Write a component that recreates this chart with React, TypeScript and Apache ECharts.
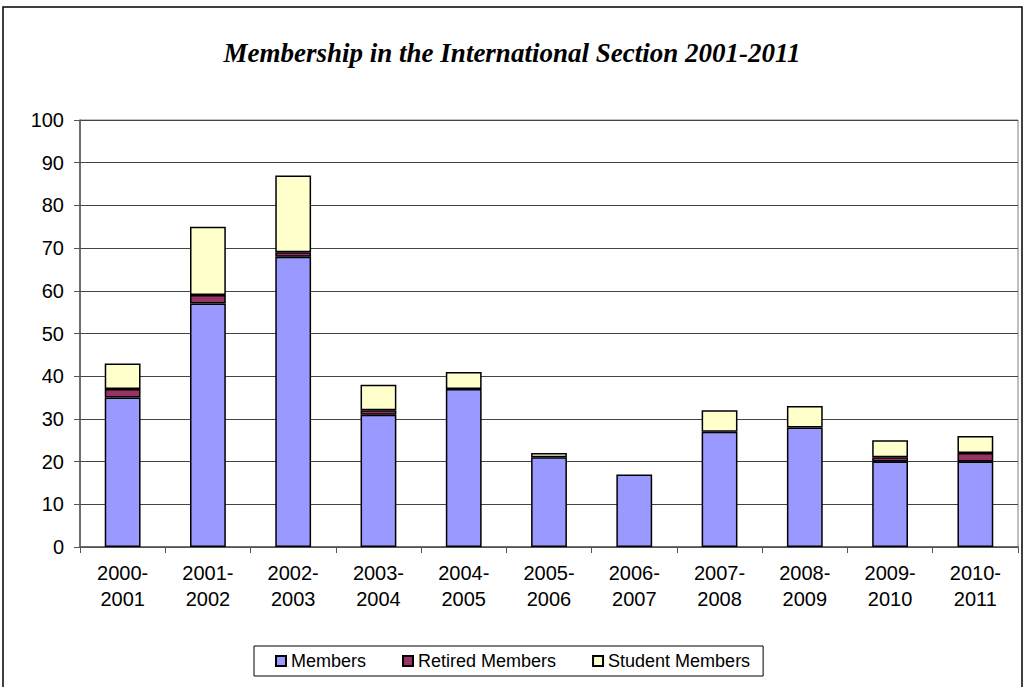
import React, { useEffect, useRef } from "react";
import * as echarts from "echarts";

const categories = ["2000-\n2001", "2001-\n2002", "2002-\n2003", "2003-\n2004", "2004-\n2005", "2005-\n2006", "2006-\n2007", "2007-\n2008", "2008-\n2009", "2009-\n2010", "2010-\n2011"];
const members = [35, 57, 68, 31, 37, 21, 17, 27, 28, 20, 20];
const retired = [2, 2, 1, 1, 0, 0, 0, 0, 0, 1, 2];
const students = [6, 16, 18, 6, 4, 1, 0, 5, 5, 4, 4];
const yTicks = [0, 10, 20, 30, 40, 50, 60, 70, 80, 90, 100];

const hideZero = (arr: number[]) => arr.map((v) => (v === 0 ? "-" : v));

export default function App() {
  const ref = useRef<HTMLDivElement>(null);
  useEffect(() => {
    const chart = echarts.init(ref.current!, null, { renderer: "svg" });
    const barStyle = (color: string) => ({ color, borderColor: "#000", borderWidth: 1.5 });
    chart.setOption({
      animation: false,
      backgroundColor: "#fff",
      title: {
        text: "Membership in the International Section 2001-2011",
        left: "center",
        top: 34,
        textStyle: { fontFamily: "Liberation Serif", fontStyle: "italic", fontWeight: "bold", fontSize: 27, color: "#000" },
      },
      graphic: [
        { type: "rect", shape: { x: 3, y: 7, width: 1019, height: 700 }, style: { fill: "none", stroke: "#000", lineWidth: 1.5 }, silent: true },
      ],
      legend: {
        left: 254,
        top: 646,
        orient: "horizontal",
        itemWidth: 10,
        itemHeight: 10,
        itemGap: 36,
        padding: [6, 13, 6, 21],
        borderColor: "#000",
        borderWidth: 1,
        icon: "rect",
        textStyle: { fontFamily: "Liberation Sans", fontSize: 18, color: "#000" },
        data: ["Members", "Retired Members", "Student Members"],
      },
      grid: { left: 80, right: 6, top: 120, bottom: 140, show: true, borderColor: "#808080", borderWidth: 1 },
      xAxis: {
        type: "category",
        data: categories,
        boundaryGap: true,
        axisLine: { lineStyle: { color: "#555", width: 1.5 } },
        axisTick: { show: true, length: 6, alignWithLabel: false, lineStyle: { color: "#555" } },
        axisLabel: { fontFamily: "Liberation Sans", fontSize: 20, color: "#000", lineHeight: 26, margin: 13, interval: 0 },
      },
      yAxis: {
        type: "value",
        min: yTicks[0],
        max: yTicks[yTicks.length - 1],
        interval: 10,
        axisLine: { show: true, lineStyle: { color: "#555", width: 1.5 } },
        axisTick: { show: true, length: 6, lineStyle: { color: "#555" } },
        axisLabel: { fontFamily: "Liberation Sans", fontSize: 20, color: "#000", margin: 16 },
        splitLine: { lineStyle: { color: "#444", width: 1 } },
      },
      series: [
        { name: "Members", type: "bar", stack: "a", barWidth: "42%", data: hideZero(members), itemStyle: barStyle("#9999FF") },
        { name: "Retired Members", type: "bar", stack: "a", barWidth: "42%", data: hideZero(retired), itemStyle: barStyle("#993366") },
        { name: "Student Members", type: "bar", stack: "a", barWidth: "42%", data: hideZero(students), itemStyle: barStyle("#FFFFCC") },
      ],
    });
    return () => chart.dispose();
  }, []);
  return <div ref={ref} style={{ position: "fixed", left: 0, top: 0, width: 1024, height: 687 }} />;
}
